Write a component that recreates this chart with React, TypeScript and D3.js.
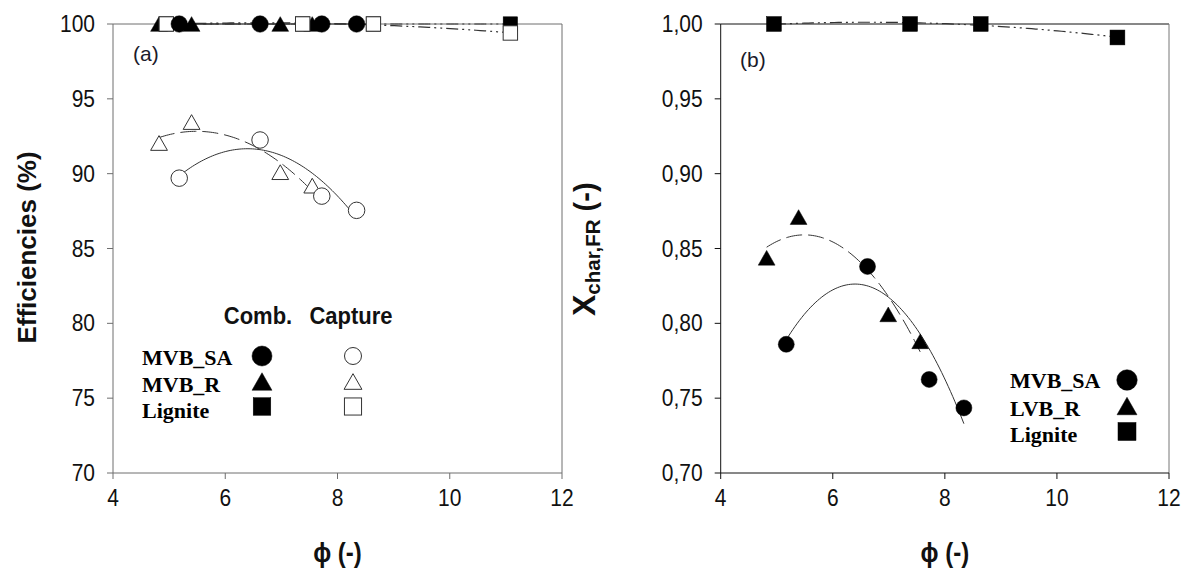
import React from "react";
import * as d3 from "d3";

// ---------- data ----------
const xTicks = [4, 6, 8, 10, 12];
const yTicksA = [70, 75, 80, 85, 90, 95, 100];
const yTicksB = [0.7, 0.75, 0.8, 0.85, 0.9, 0.95, 1.0];

// panel (a)
const phiA_SA = [5.18, 6.62, 7.72, 8.34];
const combA_SA = [100, 100, 100, 100];
const capA_SA = [89.7, 92.25, 88.5, 87.55];
const phiA_R = [4.82, 5.4, 6.98, 7.55];
const combA_R = [100, 100, 100, 100];
const capA_R = [92.05, 93.45, 90.1, 89.2];
const phiA_Lig = [4.95, 7.38, 8.64, 11.08];
const combA_Lig = [100, 100, 100, 100];
const capA_Lig = [100, 100, 100, 99.4];

// panel (b)
const phiB_SA = [5.17, 6.62, 7.72, 8.34];
const xB_SA = [0.786, 0.838, 0.7625, 0.7435];
const phiB_R = [4.82, 5.39, 6.99, 7.56];
const xB_R = [0.8438, 0.871, 0.806, 0.788];
const phiB_Lig = [4.95, 7.38, 8.64, 11.08];
const xB_Lig = [1.0, 1.0, 1.0, 0.991];

const legendA = ["MVB_SA", "MVB_R", "Lignite"];
const legendB = ["MVB_SA", "LVB_R", "Lignite"];

// ---------- helpers ----------
function quadFit(xs: number[], ys: number[]) {
  let s0 = 0, s1 = 0, s2 = 0, s3 = 0, s4 = 0, t0 = 0, t1 = 0, t2 = 0;
  xs.forEach((x, i) => {
    const y = ys[i];
    s0 += 1; s1 += x; s2 += x * x; s3 += x * x * x; s4 += x * x * x * x;
    t0 += y; t1 += x * y; t2 += x * x * y;
  });
  const M = [
    [s0, s1, s2, t0],
    [s1, s2, s3, t1],
    [s2, s3, s4, t2],
  ];
  for (let i = 0; i < 3; i++) {
    let p = i;
    for (let r = i + 1; r < 3; r++) if (Math.abs(M[r][i]) > Math.abs(M[p][i])) p = r;
    [M[i], M[p]] = [M[p], M[i]];
    for (let r = 0; r < 3; r++) {
      if (r === i) continue;
      const f = M[r][i] / M[i][i];
      for (let c = i; c < 4; c++) M[r][c] -= f * M[i][c];
    }
  }
  const a = M[0][3] / M[0][0], b = M[1][3] / M[1][1], c = M[2][3] / M[2][2];
  return (x: number) => a + b * x + c * x * x;
}

function fitPoints(xs: number[], ys: number[]) {
  const f = quadFit(xs, ys);
  const lo = d3.min(xs)!, hi = d3.max(xs)!;
  return d3.range(0, 81).map((i) => {
    const x = lo + ((hi - lo) * i) / 80;
    return [x, f(x)] as [number, number];
  });
}

type Shape = "circle" | "triangle" | "square";
function Marker({ shape, x, y, filled, size }: { shape: Shape; x: number; y: number; filled: boolean; size: number }) {
  const fill = filled ? "#000" : "#fff";
  const stroke = filled ? "#000" : "#333";
  const sw = filled ? 0.5 : 1;
  if (shape === "circle") return <circle cx={x} cy={y} r={size / 2} fill={fill} stroke={stroke} strokeWidth={sw} />;
  if (shape === "square") {
    const s = size * 0.9;
    return <rect x={x - s / 2} y={y - s / 2} width={s} height={s} fill={fill} stroke={stroke} strokeWidth={sw} />;
  }
  const w = size * 1.05, h = size * 0.92;
  return (
    <path d={`M${x},${y - h / 2}L${x + w / 2},${y + h / 2}L${x - w / 2},${y + h / 2}Z`} fill={fill} stroke={stroke} strokeWidth={sw} />
  );
}

const SANS = "'Liberation Sans', Arial, sans-serif";
const SERIF = "'Liberation Serif', 'Times New Roman', serif";
const TOP = 24, BOTTOM = 473;
const STRETCH = 1.12;

const DASH_R = "16,6";
const DASH_LIG = "12,4,2,4,2,4";

function Frame({ x0, x1, y, fmt, ticks, frameColor, rightColor }: any) {
  const x = d3.scaleLinear().domain([4, 12]).range([x0, x1]);
  return (
    <g>
      <line x1={x0} x2={x1} y1={TOP} y2={TOP} stroke={frameColor} strokeWidth={1} />
      <line x1={x1} x2={x1} y1={TOP} y2={BOTTOM} stroke={rightColor} strokeWidth={1} />
      <line x1={x0} x2={x0} y1={TOP} y2={BOTTOM} stroke={frameColor} strokeWidth={1} />
      <line x1={x0} x2={x1} y1={BOTTOM} y2={BOTTOM} stroke={frameColor} strokeWidth={1} />
      {ticks.map((t: number) => (
        <g key={"y" + t}>
          <line x1={x0 - 6} x2={x0} y1={y(t)} y2={y(t)} stroke={frameColor} />
          <text transform={`translate(${x0 - 18},${y(t) + 8}) scale(1,${STRETCH})`} textAnchor="end" fontFamily={SANS} fontSize={21} fill="#111">
            {fmt(t)}
          </text>
        </g>
      ))}
      {xTicks.map((t) => (
        <g key={"x" + t}>
          <line x1={x(t)} x2={x(t)} y1={BOTTOM} y2={BOTTOM + 6} stroke={frameColor} />
          <text transform={`translate(${x(t)},506) scale(1,${STRETCH})`} textAnchor="middle" fontFamily={SANS} fontSize={21} fill="#111">
            {t}
          </text>
        </g>
      ))}
      <text transform={`translate(${(x0 + x1) / 2},562) scale(1,${STRETCH})`} textAnchor="middle" fontFamily={SANS} fontSize={24} fontWeight="bold" fill="#111">
        ϕ (-)
      </text>
    </g>
  );
}

export default function App() {
  const xa = d3.scaleLinear().domain([4, 12]).range([113, 562]);
  const ya = d3.scaleLinear().domain([70, 100]).range([BOTTOM, TOP]);
  const xb = d3.scaleLinear().domain([4, 12]).range([720.7, 1169]);
  const yb = d3.scaleLinear().domain([0.7, 1.0]).range([BOTTOM, TOP]);

  const lineA = d3.line<[number, number]>().x((d) => xa(d[0])).y((d) => ya(d[1]));
  const lineB = d3.line<[number, number]>().x((d) => xb(d[0])).y((d) => yb(d[1]));
  const fmtB = (v: number) => d3.format(".2f")(v).replace(".", ",");

  const curve = "#333";

  return (
    <svg width={1186} height={570} style={{ position: "absolute", left: 0, top: 0, background: "#fff" }}>
      <rect width={1186} height={570} fill="#fff" />
      {/* ---------- panel (a) ---------- */}
      <Frame x0={113} x1={562} y={ya} fmt={(v: number) => String(v)} ticks={yTicksA} frameColor="#6e6e6e" rightColor="#6e6e6e" />
      <text transform="translate(36,247.5) rotate(-90)" textAnchor="middle" fontFamily={SANS} fontSize={26} fontWeight="bold" fill="#111">
        Efficiencies (%)
      </text>
      <text x={133} y={61} fontFamily={SANS} fontSize={21} fill="#1a1a2a">(a)</text>

      {/* fitted curves */}
      <path d={lineA(fitPoints(phiA_SA, capA_SA))!} fill="none" stroke={curve} strokeWidth={1} />
      <path d={lineA(fitPoints(phiA_R, capA_R))!} fill="none" stroke={curve} strokeWidth={1} strokeDasharray={DASH_R} />
      <path d={lineA(fitPoints(phiA_Lig, capA_Lig))!} fill="none" stroke={curve} strokeWidth={1.2} strokeDasharray={DASH_LIG} />
      <path d={lineA(fitPoints(phiA_SA, combA_SA))!} fill="none" stroke={curve} strokeWidth={1} />
      <path d={lineA(fitPoints(phiA_R, combA_R))!} fill="none" stroke={curve} strokeWidth={1} strokeDasharray={DASH_R} />
      <path d={lineA(fitPoints(phiA_Lig, combA_Lig))!} fill="none" stroke={curve} strokeWidth={1} strokeDasharray={DASH_LIG} />

      {/* combustion (filled) markers */}
      {phiA_R.map((p, i) => <Marker key={"fr" + i} shape="triangle" x={xa(p)} y={ya(combA_R[i])} filled size={16} />)}
      {phiA_Lig.map((p, i) => <Marker key={"fl" + i} shape="square" x={xa(p)} y={ya(combA_Lig[i])} filled size={16} />)}
      {/* capture (open) markers */}
      {phiA_Lig.map((p, i) => <Marker key={"cl" + i} shape="square" x={xa(p)} y={ya(capA_Lig[i])} filled={false} size={16} />)}
      {phiA_SA.map((p, i) => <Marker key={"fs" + i} shape="circle" x={xa(p)} y={ya(combA_SA[i])} filled size={16.5} />)}
      {phiA_R.map((p, i) => <Marker key={"cr" + i} shape="triangle" x={xa(p)} y={ya(capA_R[i])} filled={false} size={16} />)}
      {phiA_SA.map((p, i) => <Marker key={"cs" + i} shape="circle" x={xa(p)} y={ya(capA_SA[i])} filled={false} size={16.5} />)}

      {/* legend (a) */}
      <text transform={`translate(258,324) scale(1,1.05)`} textAnchor="middle" fontFamily={SANS} fontSize={22} fontWeight="bold" fill="#111">Comb.</text>
      <text transform={`translate(351,324) scale(1,1.05)`} textAnchor="middle" fontFamily={SANS} fontSize={22} fontWeight="bold" fill="#111">Capture</text>
      {legendA.map((name, i) => (
        <text key={name} x={142} y={[365, 392, 418][i]} fontFamily={SERIF} fontSize={22} fontWeight="bold" fill="#000">{name}</text>
      ))}
      <Marker shape="circle" x={262} y={356} filled size={20} />
      <Marker shape="triangle" x={262} y={381.5} filled size={19} />
      <Marker shape="square" x={262} y={406.5} filled size={19.5} />
      <Marker shape="circle" x={353} y={356} filled={false} size={17} />
      <Marker shape="triangle" x={353} y={381.5} filled={false} size={17} />
      <Marker shape="square" x={353} y={406.5} filled={false} size={19} />

      {/* ---------- panel (b) ---------- */}
      <Frame x0={720.7} x1={1169} y={yb} fmt={fmtB} ticks={yTicksB} frameColor="#111" rightColor="#777" />
      <text transform="translate(595,316) rotate(-90)" fontFamily={SANS} fontWeight="bold" fill="#111">
        <tspan fontSize={32}>X</tspan>
        <tspan fontSize={20.5} dy={5}>char,FR</tspan>
        <tspan fontSize={29} dy={-5}> (-)</tspan>
      </text>
      <text x={740} y={67} fontFamily={SANS} fontSize={21} fill="#1a1a2a">(b)</text>

      <path d={lineB(fitPoints(phiB_SA, xB_SA))!} fill="none" stroke={curve} strokeWidth={1} />
      <path d={lineB(fitPoints(phiB_R, xB_R))!} fill="none" stroke={curve} strokeWidth={1} strokeDasharray={DASH_R} />
      <path d={lineB(fitPoints(phiB_Lig, xB_Lig))!} fill="none" stroke={curve} strokeWidth={1.2} strokeDasharray={DASH_LIG} />

      {phiB_Lig.map((p, i) => <Marker key={"bl" + i} shape="square" x={xb(p)} y={yb(xB_Lig[i])} filled size={16.5} />)}
      {phiB_R.map((p, i) => <Marker key={"br" + i} shape="triangle" x={xb(p)} y={yb(xB_R[i])} filled size={16} />)}
      {phiB_SA.map((p, i) => <Marker key={"bs" + i} shape="circle" x={xb(p)} y={yb(xB_SA[i])} filled size={16} />)}

      {/* legend (b) */}
      {legendB.map((name, i) => (
        <text key={name} x={1010} y={[388, 416, 442][i]} fontFamily={SERIF} fontSize={22} fontWeight="bold" fill="#000">{name}</text>
      ))}
      <Marker shape="circle" x={1127} y={380} filled size={20.5} />
      <Marker shape="triangle" x={1127} y={406} filled size={19} />
      <Marker shape="square" x={1127} y={431.5} filled size={20} />
    </svg>
  );
}
